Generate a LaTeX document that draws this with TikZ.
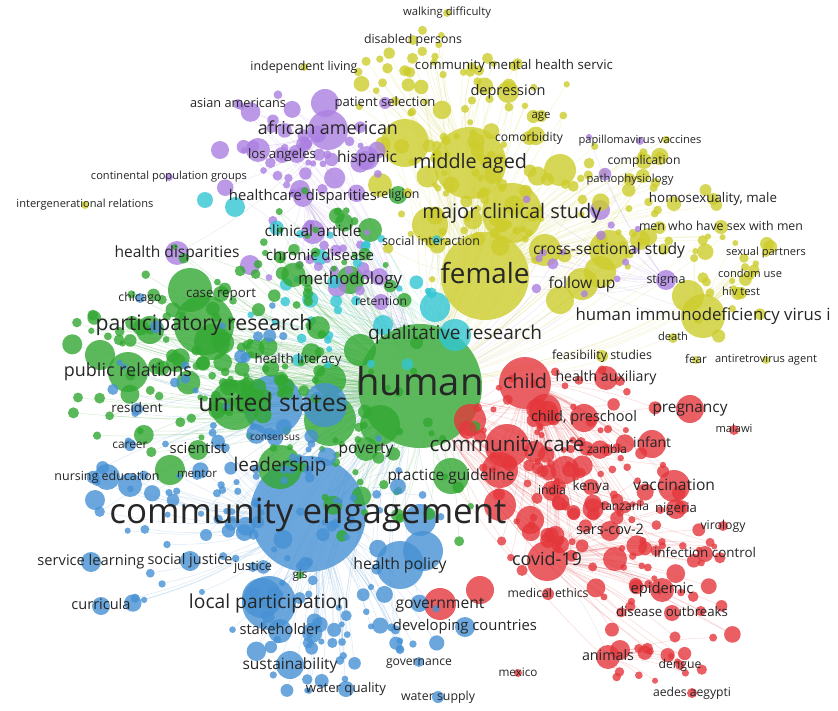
\documentclass[tikz,border=0pt]{standalone}
\usepackage{fontspec}
\setmainfont{Open Sans}
\usepackage{graphicx}
\pgfdeclarelayer{bg}\pgfdeclarelayer{edge}\pgfdeclarelayer{lab}
\pgfsetlayers{bg,edge,main,lab}
\definecolor{grn}{RGB}{50,168,50}
\definecolor{blu}{RGB}{70,145,212}
\definecolor{yel}{RGB}{205,205,45}
\definecolor{pur}{RGB}{172,128,226}
\definecolor{cya}{RGB}{50,198,212}
\definecolor{rd}{RGB}{228,55,60}
\tikzset{
 dot/.style={circle,inner sep=0pt,draw=none,fill opacity=0.8},
 lbl/.style={inner sep=0pt,text=black!85},
 edg/.style={line width=0.5pt,draw opacity=0.2},
}
\newif\iflabmode
\newif\ifedgemode
\newcommand\kw[7]{%
 \iflabmode
  \node[lbl] (t#1) at (#2,#3) {\resizebox{#6pt}{!}{#7\vphantom{Ahg}}};%
 \else
  \pgfmathsetmacro\dd{2*#4}%
  \node[dot,fill=#5,minimum size=\dd pt] (#1) at (#2,#3) {};%
 \fi
}
\newcommand\xc[5]{%
 \pgfmathsetmacro\dd{2*#4}%
 \node[dot,fill=#5,minimum size=\dd pt] (#1) at (#2,#3) {};%
}
\newcommand\scatter[9]{%
 \foreach \k in {1,...,#7}{%
  \ifedgemode
   \draw[edg,draw=#2] (#8) to[bend left=8] (#1\k);%
   \pgfmathtruncatemacro\ee{mod(\k,3)}%
   \ifnum\ee=0 \draw[edg,draw=#2] (human) to[bend right=10] (#1\k);\fi
  \else
   \pgfmathsetmacro\px{#3+#5*(rand+rand)/2}%
   \pgfmathsetmacro\py{#4+#6*(rand+rand)/2}%
   \pgfmathsetmacro\dd{2*(3+#9*rnd*rnd)}%
   \node[dot,fill=#2,minimum size=\dd pt] (#1\k) at (\px,\py) {};%
  \fi
 }%
}
\def\allkwA{%
\kw{human}{420}{386}{62}{grn}{127}{human}
\kw{ce}{308}{514}{58}{blu}{397}{community engagement}
\kw{female}{485}{276}{44}{yel}{89}{female}
\kw{middleaged}{470}{163}{36}{yel}{114}{middle aged}
\kw{majorclin}{512}{213}{30}{yel}{179}{major clinical study}
\kw{partres}{204}{325}{30}{grn}{217}{participatory research}
\kw{unitedstates}{273}{405}{30}{blu}{149}{united states}
\kw{localpart}{269}{603}{27}{blu}{160}{local participation}
\kw{healthpolicy}{400}{565}{24}{blu}{93}{health policy}
\kw{child}{525}{383}{26}{rd}{44}{child}
\kw{hiv}{703}{316}{22}{yel}{255}{human immunodeficiency virus i}
\kw{leadership}{280}{467}{22}{grn}{93}{leadership}
\kw{commcare}{507}{446}{22}{rd}{155}{community care}
\kw{publicrel}{128}{372}{20}{grn}{128}{public relations}
\kw{africanamerican}{328}{130}{20}{pur}{140}{african american}
\kw{covid}{547}{561}{20}{rd}{70}{covid-19}
\kw{crosssec}{609}{250}{20}{yel}{152}{cross-sectional study}
\kw{practice}{451}{476}{18}{grn}{127}{practice guideline}
}
\def\allkwB{%
\kw{walking}{447}{13}{4}{yel}{88}{walking difficulty}
\kw{disabled}{413}{40}{5}{yel}{98}{disabled persons}
\kw{indliving}{304}{67}{4}{yel}{107}{independent living}
\kw{cmhs}{514}{66}{5}{yel}{198}{community mental health servic}
\kw{depression}{508}{92}{11}{yel}{75}{depression}
\kw{asian}{238}{104}{5}{pur}{96}{asian americans}
\kw{patsel}{385}{103}{6}{pur}{101}{patient selection}
\kw{age}{541}{116}{6}{yel}{19}{age}
\kw{comorbidity}{529}{138}{7}{yel}{68}{comorbidity}
\kw{papilloma}{640}{141}{4}{pur}{123}{papillomavirus vaccines}
\kw{losangeles}{282}{155}{8}{pur}{68}{los angeles}
\kw{hispanic}{367}{158}{12}{pur}{60}{hispanic}
\kw{complication}{644}{161}{8}{yel}{73}{complication}
\kw{continental}{169}{177}{4}{pur}{156}{continental population groups}
\kw{pathophys}{630}{180}{4}{pur}{87}{pathophysiology}
\kw{healthcaredisp}{303}{197}{10}{pur}{148}{healthcare disparities}
\kw{religion}{398}{195}{9}{grn}{43}{religion}
\kw{homosex}{713}{199}{6}{yel}{128}{homosexuality, male}
\kw{intergen}{85}{205}{4}{yel}{137}{intergenerational relations}
\kw{msm}{721}{227}{7}{yel}{164}{men who have sex with men}
\kw{clinart}{313}{232}{12}{pur}{97}{clinical article}
\kw{socint}{431}{242}{6}{yel}{98}{social interaction}
\kw{healthdisp}{177}{253}{12}{pur}{125}{health disparities}
\kw{chronic}{320}{257}{8}{cya}{108}{chronic disease}
\kw{sexpart}{766}{253}{4}{yel}{80}{sexual partners}
\kw{methodology}{350}{280}{14}{grn}{104}{methodology}
\kw{followup}{582}{284}{16}{yel}{67}{follow up}
\kw{stigma}{666}{280}{10}{pur}{39}{stigma}
\kw{condom}{750}{275}{5}{yel}{64}{condom use}
\kw{chicago}{140}{298}{5}{blu}{43}{chicago}
\kw{casereport}{221}{294}{8}{grn}{70}{case report}
\kw{hivtest}{741}{293}{6}{yel}{38}{hiv test}
\kw{retention}{381}{302}{8}{pur}{52}{retention}
\kw{qualitative}{455}{335}{16}{cya}{174}{qualitative research}
\kw{deathk}{673}{338}{5}{yel}{30}{death}
\kw{healthlit}{298}{360}{6}{cya}{87}{health literacy}
\kw{feasib}{602}{356}{6}{yel}{100}{feasibility studies}
\kw{fear}{696}{360}{4}{yel}{22}{fear}
\kw{antiretro}{766}{360}{4}{yel}{102}{antiretrovirus agent}
\kw{healthaux}{606}{378}{12}{rd}{101}{health auxiliary}
\kw{resident}{137}{409}{6}{blu}{51}{resident}
\kw{pregnancy}{690}{409}{14}{rd}{75}{pregnancy}
\kw{preschool}{584}{418}{14}{rd}{106}{child, preschool}
\kw{career}{130}{445}{6}{blu}{35}{career}
\kw{scientist}{198}{450}{10}{grn}{57}{scientist}
\kw{consensus}{275}{438}{8}{blu}{50}{consensus}
\kw{poverty}{366}{449}{12}{grn}{55}{poverty}
\kw{malawi}{734}{430}{5}{rd}{37}{malawi}
\kw{zambia}{607}{450}{6}{rd}{40}{zambia}
\kw{infant}{652}{444}{14}{rd}{38}{infant}
\kw{mentor}{197}{475}{5}{blu}{40}{mentor}
\kw{nursing}{107}{477}{13}{blu}{105}{nursing education}
\kw{kenya}{591}{487}{8}{rd}{37}{kenya}
\kw{vaccination}{674}{486}{16}{rd}{82}{vaccination}
\kw{india}{552}{491}{10}{rd}{28}{india}
\kw{tanzania}{625}{507}{6}{rd}{48}{tanzania}
\kw{nigeria}{676}{509}{10}{rd}{42}{nigeria}
\kw{virology}{723}{526}{5}{rd}{45}{virology}
\kw{sarscov}{610}{531}{10}{rd}{68}{sars-cov-2}
\kw{servlearn}{91}{562}{10}{blu}{107}{service learning}
\kw{socjustice}{190}{561}{10}{blu}{85}{social justice}
\kw{justice}{253}{567}{5}{blu}{38}{justice}
\kw{infcontrol}{705}{554}{8}{rd}{102}{infection control}
\kw{gis}{300}{575}{4}{grn}{15}{gis}
\kw{curricula}{101}{606}{9}{blu}{59}{curricula}
\kw{government}{440}{604}{16}{rd}{89}{government}
\kw{medethics}{548}{594}{6}{rd}{81}{medical ethics}
\kw{epidemic}{662}{590}{12}{rd}{63}{epidemic}
\kw{outbreaks}{672}{613}{8}{rd}{112}{disease outbreaks}
\kw{developing}{465}{627}{10}{blu}{144}{developing countries}
\kw{stakeholder}{280}{631}{12}{blu}{81}{stakeholder}
\kw{animals}{608}{657}{12}{rd}{52}{animals}
\kw{sustain}{290}{665}{14}{blu}{95}{sustainability}
\kw{governance}{419}{662}{5}{blu}{66}{governance}
\kw{dengue}{680}{665}{5}{rd}{43}{dengue}
\kw{mexico}{518}{673}{4}{rd}{39}{mexico}
\kw{waterqual}{346}{689}{8}{blu}{80}{water quality}
\kw{watersup}{438}{697}{6}{blu}{74}{water supply}
\kw{aedes}{692}{693}{5}{rd}{78}{aedes aegypti}
}
\def\allscatter{%
\scatter{ya}{yel}{480}{175}{120}{115}{90}{female}{9}
\scatter{yb}{yel}{650}{210}{100}{90}{40}{female}{7}
\scatter{yc}{yel}{740}{290}{60}{60}{20}{hiv}{6}
\scatter{yd}{yel}{430}{70}{100}{55}{35}{middleaged}{6}
\scatter{pa}{pur}{300}{150}{100}{70}{45}{africanamerican}{8}
\scatter{pb}{pur}{600}{220}{90}{100}{15}{stigma}{6}
\scatter{pc}{pur}{330}{260}{90}{50}{20}{healthcaredisp}{7}
\scatter{ca}{cya}{330}{300}{130}{90}{30}{qualitative}{7}
\scatter{ga}{grn}{240}{360}{190}{120}{140}{human}{10}
\scatter{gb}{grn}{390}{480}{100}{80}{30}{human}{8}
\scatter{gc}{grn}{330}{230}{100}{60}{20}{human}{8}
\scatter{ba}{blu}{260}{520}{190}{120}{100}{ce}{9}
\scatter{bb}{blu}{340}{640}{120}{60}{45}{ce}{8}
\scatter{bc}{blu}{200}{380}{130}{90}{25}{unitedstates}{6}
\scatter{ra}{rd}{560}{470}{110}{110}{110}{child}{9}
\scatter{rb}{rd}{660}{560}{100}{90}{45}{covid}{7}
\scatter{rc}{rd}{670}{650}{70}{40}{15}{animals}{5}
}
\begin{document}
\begin{tikzpicture}[x=1pt,y=-1pt]
\begin{pgfonlayer}{bg}\fill[white] (0,0) rectangle (838,711);\end{pgfonlayer}
\useasboundingbox (0,0) rectangle (838,711);
\pgfmathsetseed{7}
\allkwA
\xc{y1}{405}{143}{24}{yel}\xc{y2}{560}{170}{16}{yel}\xc{y3}{430}{225}{18}{yel}
\xc{y4}{600}{272}{16}{yel}\xc{y5}{560}{300}{14}{yel}\xc{y6}{545}{250}{16}{yel}
\xc{y7}{688}{296}{16}{yel}\xc{y8}{640}{240}{10}{yel}\xc{y9}{380}{185}{12}{yel}
\xc{g1}{190}{290}{22}{grn}\xc{g2}{235}{405}{25}{grn}\xc{g3}{330}{420}{26}{grn}
\xc{g4}{100}{355}{15}{grn}\xc{g5}{170}{470}{15}{grn}\xc{g6}{380}{425}{20}{grn}
\xc{g7}{360}{350}{16}{grn}\xc{g8}{212}{342}{18}{grn}\xc{g9}{150}{330}{14}{grn}
\xc{g10}{330}{380}{16}{grn}\xc{g11}{370}{230}{12}{grn}
\xc{b1}{325}{405}{22}{blu}\xc{b2}{130}{485}{12}{blu}\xc{b3}{423}{551}{20}{blu}
\xc{b4}{262}{598}{20}{blu}\xc{b5}{95}{500}{10}{blu}\xc{b6}{420}{520}{16}{blu}
\xc{p1}{325}{103}{14}{pur}\xc{p2}{258}{150}{12}{pur}\xc{p3}{220}{150}{9}{pur}
\xc{p4}{600}{210}{10}{pur}\xc{p5}{250}{265}{10}{pur}\xc{p6}{300}{190}{10}{pur}
\xc{c1}{435}{307}{15}{cya}\xc{c2}{383}{325}{10}{cya}\xc{c3}{235}{207}{10}{cya}\xc{c4}{205}{200}{8}{cya}
\xc{r1}{500}{470}{18}{rd}\xc{r2}{545}{410}{16}{rd}\xc{r3}{500}{505}{16}{rd}
\xc{r4}{615}{559}{12}{rd}\xc{r5}{480}{590}{14}{rd}\xc{r6}{530}{520}{14}{rd}
\xc{r7}{620}{650}{10}{rd}\xc{r8}{565}{470}{14}{rd}\xc{r9}{470}{420}{16}{rd}
\allkwB
\edgemodefalse
\allscatter
\begin{pgfonlayer}{edge}
\foreach \a/\b in {human/female,human/ce,human/child,human/partres,human/unitedstates,human/middleaged,human/majorclin,human/commcare,human/leadership,human/publicrel,human/covid,human/qualitative,ce/localpart,ce/healthpolicy,ce/leadership,ce/unitedstates,female/middleaged,female/hiv,female/majorclin,female/crosssec,child/covid,child/commcare,child/vaccination,commcare/sarscov,covid/epidemic,covid/animals,hiv/followup,africanamerican/hispanic,africanamerican/healthdisp}
  \draw[edg,draw=black!40] (\a) to[bend left=10] (\b);
\edgemodetrue
\allscatter
\end{pgfonlayer}
\begin{pgfonlayer}{lab}
\labmodetrue
\allkwA
\allkwB
\end{pgfonlayer}
\end{tikzpicture}
\end{document}
